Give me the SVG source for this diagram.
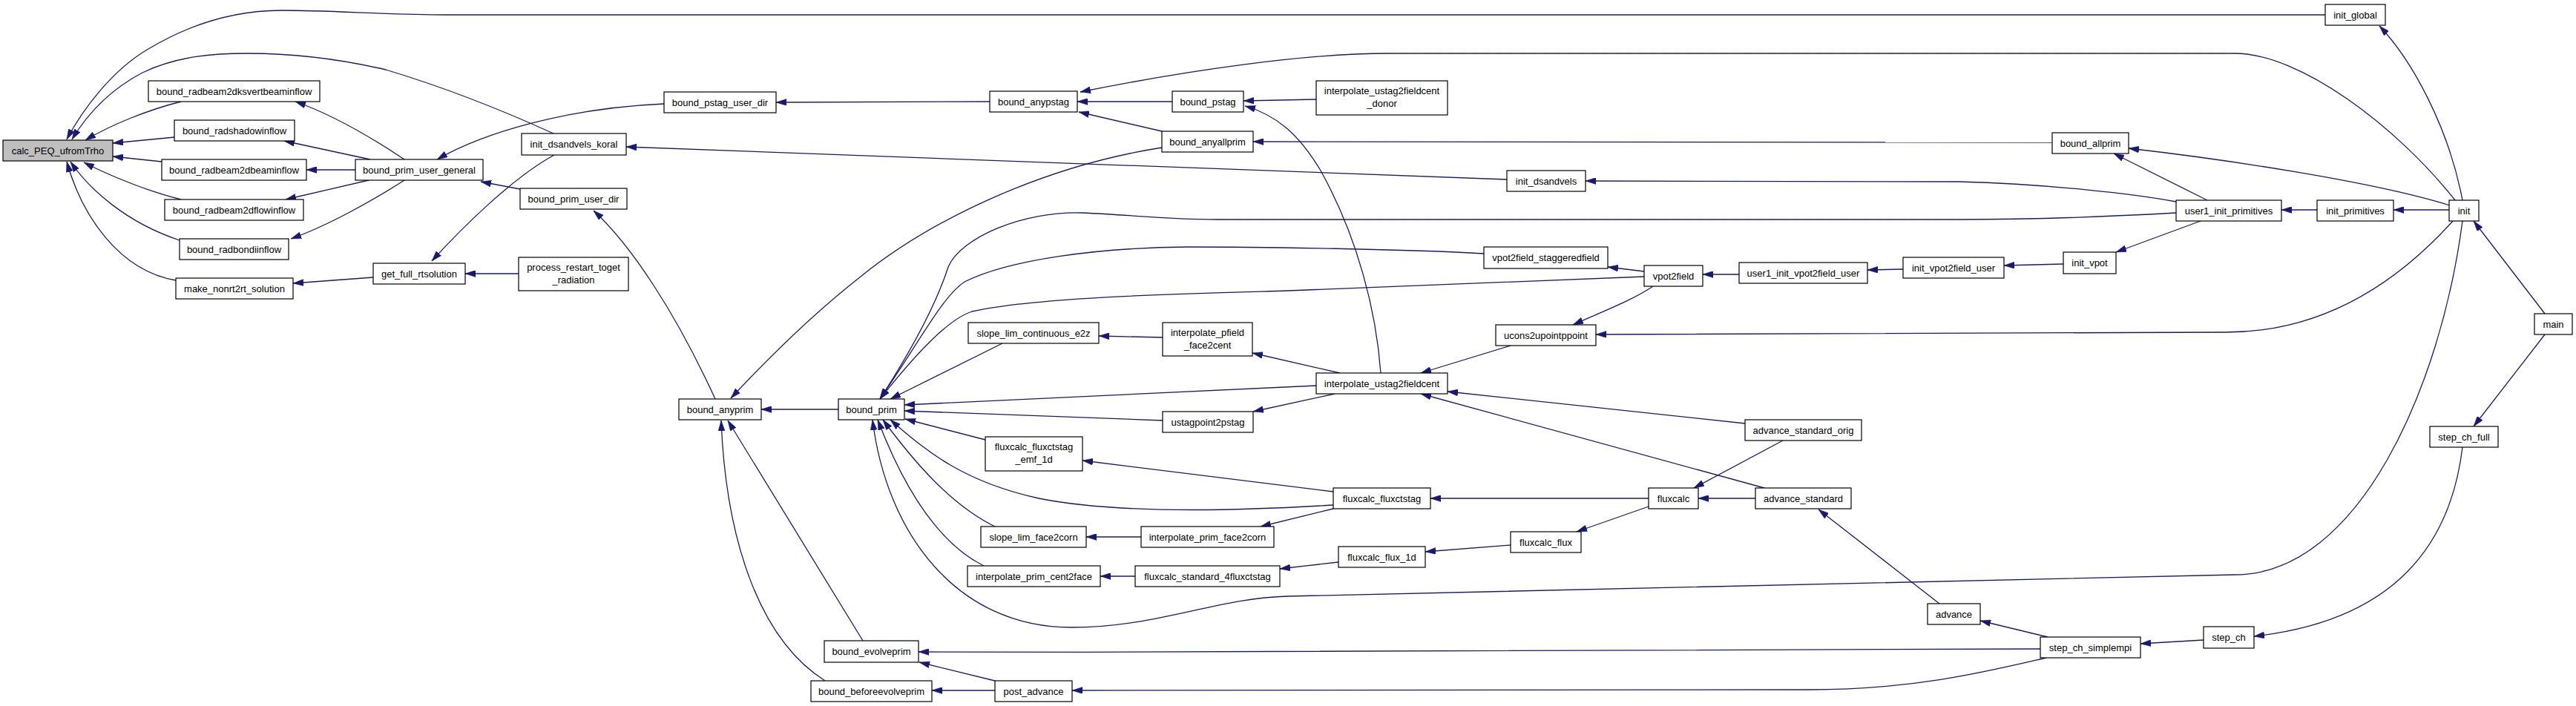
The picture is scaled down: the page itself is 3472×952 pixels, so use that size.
<svg xmlns="http://www.w3.org/2000/svg" width="3472" height="952" viewBox="0 0 3472 952">
<style>
.node rect{fill:#fff;stroke:#000;stroke-width:1.2}
.node.root rect{fill:#bfbfbf}
.node text{font-family:"Liberation Sans",Arial,sans-serif;font-size:13px;fill:#000;text-anchor:middle}
#edges path{fill:none;stroke:#191970;stroke-width:1.3;marker-start:url(#arr)}
</style>
<defs>
<marker id="arr" viewBox="0 0 14 9" markerWidth="14" markerHeight="9" refX="14" refY="4.5" orient="auto-start-reverse" markerUnits="userSpaceOnUse">
<path d="M0,0 L14,4.5 L0,9 Z" fill="#191970" stroke="#191970" stroke-width="0.5"/>
</marker>
</defs>
<rect width="3472" height="952" fill="#fff"/>
<g id="edges">
<path d="M90,188 C110,150 150,95 200,66 C260,30 320,14 380,14 C450,14 520,20 600,20 L3134,20"/>
<path d="M97,188 C120,150 150,120 192,98 C240,75 290,72 333,72 C400,72 460,80 520,94 C600,118 680,150 746,180"/>
<path d="M115,189 C150,168 200,148 244,137"/>
<path d="M152,193 L235,185"/>
<path d="M152,211 L218,218"/>
<path d="M113,219 C150,238 200,258 244,269"/>
<path d="M95,218 C120,255 170,300 242,324"/>
<path d="M90,218 C110,290 160,365 237,378"/>
<path d="M398,137 C450,155 500,185 545,215"/>
<path d="M383,190 L499,215"/>
<path d="M413,229 L479,229"/>
<path d="M385,269 L497,243"/>
<path d="M392,322 C440,305 500,272 545,243"/>
<path d="M395,382 L503,374"/>
<path d="M589,215 C650,180 760,146 895,140"/>
<path d="M648,245 L701,255"/>
<path d="M582,352 C620,310 690,240 747,209"/>
<path d="M627,369 L699,369"/>
<path d="M844,198 L2031,242"/>
<path d="M1046,138 L1334,137"/>
<path d="M800,284 C850,330 910,420 964,538"/>
<path d="M985,537 C1040,478 1100,420 1160,373 C1250,300 1400,225 1566,199"/>
<path d="M1026,552 L1130,552"/>
<path d="M981,567 L1163,864"/>
<path d="M972,567 C978,720 1020,860 1112,918"/>
<path d="M1452,137 L1580,137"/>
<path d="M1454,151 L1566,177"/>
<path d="M1456,124 C1600,95 1760,72 1870,72 L3012,72 C3100,72 3230,170 3309,270"/>
<path d="M1676,136 L1774,134"/>
<path d="M1678,143 C1720,155 1750,180 1780,230 C1830,320 1855,420 1861,503"/>
<path d="M1689,191 L2766,192"/>
<path d="M2869,200 C3000,215 3200,245 3302,277"/>
<path d="M2849,207 L2975,270"/>
<path d="M2137,244 L2640,245 C2760,248 2880,262 2933,272"/>
<path d="M3075,283 L3123,283"/>
<path d="M3226,283 L3301,283"/>
<path d="M3207,35 C3250,80 3300,170 3319,270"/>
<path d="M3334,298 L3430,423"/>
<path d="M3334,575 L3430,451"/>
<path d="M3038,858 C3200,840 3300,760 3319,603"/>
<path d="M2885,868 L2970,863"/>
<path d="M2669,837 L2760,859"/>
<path d="M2451,687 L2614,814"/>
<path d="M1238,879 C1800,880 2400,880 2750,875"/>
<path d="M1445,931 L2440,930 C2580,930 2680,905 2758,887"/>
<path d="M1239,893 L1341,918"/>
<path d="M1256,931 L1341,931"/>
<path d="M1200,538 L1351,463"/>
<path d="M1186,538 C1230,470 1262,410 1278,360 C1295,320 1380,284 1459,287 C1530,290 1570,296 1640,296 L2640,296 C2760,296 2880,290 2933,287"/>
<path d="M1186,538 C1240,460 1270,400 1300,380 C1360,350 1480,334 1600,333 C1700,333 1900,336 2000,342"/>
<path d="M1186,538 C1240,470 1280,430 1310,420 C1400,400 1600,396 1736,392 L2216,373"/>
<path d="M1219,546 L1774,520"/>
<path d="M1219,554 L1567,567"/>
<path d="M1220,565 L1328,593"/>
<path d="M1200,566 C1250,610 1300,650 1400,672 C1500,692 1650,690 1797,681"/>
<path d="M1190,566 C1230,620 1280,680 1341,710"/>
<path d="M1183,566 C1215,650 1260,730 1326,763"/>
<path d="M1176,566 C1195,720 1290,846 1444,846 C1560,846 1640,806 1736,804 L3012,775 C3180,775 3290,520 3319,298"/>
<path d="M2151,451 L3000,448 C3150,448 3250,360 3306,298"/>
<path d="M2167,360 L2216,366"/>
<path d="M2120,438 C2160,420 2200,405 2228,386"/>
<path d="M2295,370 L2344,370"/>
<path d="M2517,364 L2565,363"/>
<path d="M2701,358 L2781,356"/>
<path d="M2852,340 L2966,298"/>
<path d="M1688,476 L1806,503"/>
<path d="M1481,453 L1567,455"/>
<path d="M1689,555 L1799,531"/>
<path d="M1915,503 L2036,466"/>
<path d="M1951,528 L2352,571"/>
<path d="M1915,531 L2378,658"/>
<path d="M2283,658 L2403,594"/>
<path d="M2289,672 L2366,672"/>
<path d="M1928,672 L2222,672"/>
<path d="M2125,717 L2222,683"/>
<path d="M1921,744 L2036,735"/>
<path d="M1725,767 L1804,758"/>
<path d="M1459,621 L1797,663"/>
<path d="M1699,710 L1797,686"/>
<path d="M1464,724 L1538,724"/>
<path d="M1483,777 L1530,777"/>
</g>
<g id="n1" class="node root"><rect x="4" y="189" width="148" height="28"/><text x="78" y="207.5">calc_PEQ_ufromTrho</text></g>
<g id="n2" class="node"><rect x="200" y="109" width="231" height="28"/><text x="315.5" y="127.5">bound_radbeam2dksvertbeaminflow</text></g>
<g id="n3" class="node"><rect x="235" y="162" width="162" height="28"/><text x="316" y="180.5">bound_radshadowinflow</text></g>
<g id="n4" class="node"><rect x="218" y="215" width="195" height="28"/><text x="315.5" y="233.5">bound_radbeam2dbeaminflow</text></g>
<g id="n5" class="node"><rect x="222" y="269" width="187" height="28"/><text x="315.5" y="287.5">bound_radbeam2dflowinflow</text></g>
<g id="n6" class="node"><rect x="242" y="322" width="147" height="28"/><text x="315.5" y="340.5">bound_radbondiinflow</text></g>
<g id="n7" class="node"><rect x="237" y="375" width="158" height="28"/><text x="316" y="393.5">make_nonrt2rt_solution</text></g>
<g id="n8" class="node"><rect x="479" y="215" width="172" height="28"/><text x="565" y="233.5">bound_prim_user_general</text></g>
<g id="n9" class="node"><rect x="503" y="355" width="124" height="28"/><text x="565" y="373.5">get_full_rtsolution</text></g>
<g id="n10" class="node"><rect x="895" y="124" width="151" height="28"/><text x="970.5" y="142.5">bound_pstag_user_dir</text></g>
<g id="n11" class="node"><rect x="703" y="180" width="141" height="29"/><text x="773.5" y="199">init_dsandvels_koral</text></g>
<g id="n12" class="node"><rect x="701" y="254" width="144" height="28"/><text x="773" y="272.5">bound_prim_user_dir</text></g>
<g id="n13" class="node"><rect x="699" y="347" width="148" height="45"/><text x="773" y="364.5">process_restart_toget</text><text x="773" y="381.5">_radiation</text></g>
<g id="n14" class="node"><rect x="915" y="538" width="111" height="28"/><text x="970.5" y="556.5">bound_anyprim</text></g>
<g id="n15" class="node"><rect x="1130" y="538" width="89" height="28"/><text x="1174.5" y="556.5">bound_prim</text></g>
<g id="n16" class="node"><rect x="1111" y="864" width="127" height="29"/><text x="1174.5" y="883">bound_evolveprim</text></g>
<g id="n17" class="node"><rect x="1093" y="918" width="163" height="28"/><text x="1174.5" y="936.5">bound_beforeevolveprim</text></g>
<g id="n18" class="node"><rect x="1334" y="123" width="118" height="28"/><text x="1393" y="141.5">bound_anypstag</text></g>
<g id="n19" class="node"><rect x="1580" y="123" width="96" height="28"/><text x="1628" y="141.5">bound_pstag</text></g>
<g id="n20" class="node"><rect x="1566" y="177" width="123" height="28"/><text x="1627.5" y="195.5">bound_anyallprim</text></g>
<g id="n21" class="node"><rect x="1305" y="435" width="176" height="28"/><text x="1393" y="453.5">slope_lim_continuous_e2z</text></g>
<g id="n22" class="node"><rect x="1567" y="435" width="121" height="45"/><text x="1627.5" y="452.5">interpolate_pfield</text><text x="1627.5" y="469.5">_face2cent</text></g>
<g id="n23" class="node"><rect x="1567" y="555" width="122" height="28"/><text x="1628" y="573.5">ustagpoint2pstag</text></g>
<g id="n24" class="node"><rect x="1328" y="589" width="131" height="46"/><text x="1393.5" y="607">fluxcalc_fluxctstag</text><text x="1393.5" y="624">_emf_1d</text></g>
<g id="n25" class="node"><rect x="1322" y="710" width="142" height="28"/><text x="1393" y="728.5">slope_lim_face2corn</text></g>
<g id="n26" class="node"><rect x="1538" y="710" width="179" height="28"/><text x="1627.5" y="728.5">interpolate_prim_face2corn</text></g>
<g id="n27" class="node"><rect x="1304" y="763" width="179" height="28"/><text x="1393.5" y="781.5">interpolate_prim_cent2face</text></g>
<g id="n28" class="node"><rect x="1530" y="763" width="195" height="28"/><text x="1627.5" y="781.5">fluxcalc_standard_4fluxctstag</text></g>
<g id="n29" class="node"><rect x="1341" y="918" width="104" height="28"/><text x="1393" y="936.5">post_advance</text></g>
<g id="n30" class="node"><rect x="1774" y="109" width="177" height="46"/><text x="1862.5" y="127">interpolate_ustag2fieldcent</text><text x="1862.5" y="144">_donor</text></g>
<g id="n31" class="node"><rect x="2031" y="230" width="106" height="28"/><text x="2084" y="248.5">init_dsandvels</text></g>
<g id="n32" class="node"><rect x="2000" y="333" width="167" height="29"/><text x="2083.5" y="352">vpot2field_staggeredfield</text></g>
<g id="n33" class="node"><rect x="2216" y="358" width="79" height="28"/><text x="2255.5" y="376.5">vpot2field</text></g>
<g id="n34" class="node"><rect x="2016" y="438" width="135" height="28"/><text x="2083.5" y="456.5">ucons2upointppoint</text></g>
<g id="n35" class="node"><rect x="1774" y="503" width="177" height="28"/><text x="1862.5" y="521.5">interpolate_ustag2fieldcent</text></g>
<g id="n36" class="node"><rect x="1797" y="658" width="131" height="28"/><text x="1862.5" y="676.5">fluxcalc_fluxctstag</text></g>
<g id="n37" class="node"><rect x="2222" y="658" width="67" height="28"/><text x="2255.5" y="676.5">fluxcalc</text></g>
<g id="n38" class="node"><rect x="2036" y="717" width="95" height="28"/><text x="2083.5" y="735.5">fluxcalc_flux</text></g>
<g id="n39" class="node"><rect x="1804" y="737" width="117" height="28"/><text x="1862.5" y="755.5">fluxcalc_flux_1d</text></g>
<g id="n40" class="node"><rect x="2766" y="179" width="103" height="28"/><text x="2817.5" y="197.5">bound_allprim</text></g>
<g id="n41" class="node"><rect x="2344" y="354" width="173" height="28"/><text x="2430.5" y="372.5">user1_init_vpot2field_user</text></g>
<g id="n42" class="node"><rect x="2565" y="347" width="136" height="28"/><text x="2633" y="365.5">init_vpot2field_user</text></g>
<g id="n43" class="node"><rect x="2781" y="340" width="71" height="29"/><text x="2816.5" y="359">init_vpot</text></g>
<g id="n44" class="node"><rect x="2352" y="566" width="157" height="28"/><text x="2430.5" y="584.5">advance_standard_orig</text></g>
<g id="n45" class="node"><rect x="2366" y="658" width="129" height="28"/><text x="2430.5" y="676.5">advance_standard</text></g>
<g id="n46" class="node"><rect x="2598" y="814" width="71" height="28"/><text x="2633.5" y="832.5">advance</text></g>
<g id="n47" class="node"><rect x="2750" y="859" width="135" height="28"/><text x="2817.5" y="877.5">step_ch_simplempi</text></g>
<g id="n48" class="node"><rect x="3134" y="6" width="81" height="28"/><text x="3174.5" y="24.5">init_global</text></g>
<g id="n49" class="node"><rect x="2933" y="270" width="142" height="28"/><text x="3004" y="288.5">user1_init_primitives</text></g>
<g id="n50" class="node"><rect x="3123" y="270" width="103" height="28"/><text x="3174.5" y="288.5">init_primitives</text></g>
<g id="n51" class="node"><rect x="3301" y="270" width="40" height="28"/><text x="3321" y="288.5">init</text></g>
<g id="n52" class="node"><rect x="3416" y="423" width="51" height="28"/><text x="3441.5" y="441.5">main</text></g>
<g id="n53" class="node"><rect x="3275" y="575" width="92" height="28"/><text x="3321" y="593.5">step_ch_full</text></g>
<g id="n54" class="node"><rect x="2970" y="845" width="68" height="29"/><text x="3004" y="864">step_ch</text></g>
</svg>
